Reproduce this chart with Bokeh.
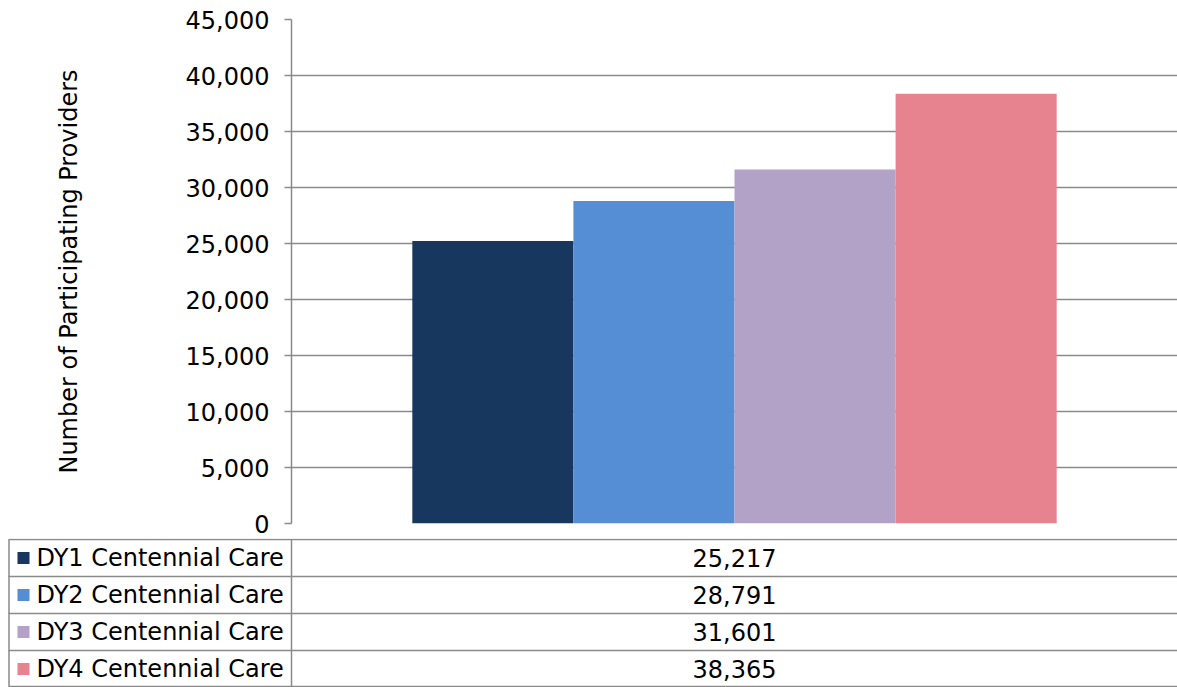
from bokeh.plotting import figure
from bokeh.models import Range1d, SingleIntervalTicker, NumeralTickFormatter, ColumnDataSource
from bokeh.layouts import column
from bokeh.core.properties import value
from bokeh.embed import file_html
from bokeh.resources import INLINE
import numpy as np

# ---- data ----
series_names = ["DY1 Centennial Care", "DY2 Centennial Care", "DY3 Centennial Care", "DY4 Centennial Care"]
series_values = [25217, 28791, 31601, 38365]
series_colors = ["#17375E", "#558ED5", "#B3A2C7", "#E6838F"]
y_ticks_interval = 5000
y_max = 45000
y_label = "Number of Participating Providers"

FONT = "DejaVu Sans"
FSIZE = "24px"
GRID = "#8a8a8a"

W = 1177
LEFT = 291
TABLE_ROW = 37
TABLE_H = 4 * TABLE_ROW + 1
CHART_H = 687 - TABLE_H

n = len(series_values)
gap = 0.75

# ---- chart ----
p = figure(width=W, height=CHART_H, output_backend="svg", toolbar_location=None,
           x_range=Range1d(-gap, n + gap), y_range=Range1d(0, y_max),
           min_border_left=LEFT, min_border_top=19, min_border_bottom=15,
           min_border_right=0, frame_align=False)
p.outline_line_color = None
p.background_fill_color = "white"
p.border_fill_color = "white"

src = ColumnDataSource(dict(x=np.arange(n) + 0.5, top=series_values, color=series_colors, name=series_names))
p.vbar(x="x", top="top", width=1.0, color="color", line_color=None, source=src)

p.xaxis.visible = False
p.xgrid.visible = False
p.ygrid.grid_line_color = GRID
p.ygrid.grid_line_width = 1.5
p.yaxis.ticker = SingleIntervalTicker(interval=y_ticks_interval, num_minor_ticks=0)
p.yaxis.formatter = NumeralTickFormatter(format="0,0")
p.yaxis.axis_line_color = GRID
p.yaxis.axis_line_width = 1.5
p.yaxis.major_tick_line_color = GRID
p.yaxis.major_tick_line_width = 1.5
p.yaxis.major_tick_out = 7
p.yaxis.major_tick_in = 0
p.yaxis.minor_tick_line_color = None
p.yaxis.major_label_standoff = 15
p.yaxis.major_label_text_font = FONT
p.yaxis.major_label_text_font_size = FSIZE
p.yaxis.major_label_text_color = "black"
p.yaxis.axis_label = y_label
p.yaxis.axis_label_text_font = FONT
p.yaxis.axis_label_text_font_size = FSIZE
p.yaxis.axis_label_text_font_style = "normal"
p.yaxis.axis_label_text_color = "black"
p.yaxis.axis_label_standoff = 100

# ---- data table ----
t = figure(width=W, height=TABLE_H, output_backend="svg", toolbar_location=None,
           x_range=Range1d(0, W), y_range=Range1d(TABLE_H, 0),
           min_border=0, min_border_left=0, min_border_right=0, min_border_top=0, min_border_bottom=0,
           frame_align=False)
t.axis.visible = False
t.grid.visible = False
t.outline_line_color = None
t.background_fill_color = "white"
t.border_fill_color = "white"

row_lines = [1 + i * TABLE_ROW for i in range(n)] + [TABLE_H - 1]
t.segment(x0=[8] * len(row_lines), x1=[W] * len(row_lines), y0=row_lines, y1=row_lines,
          line_color=GRID, line_width=1.5)
t.segment(x0=[8.5, LEFT], x1=[8.5, LEFT], y0=[1, 1], y1=[row_lines[-1], row_lines[-1]],
          line_color=GRID, line_width=1.5)

centers = [1 + TABLE_ROW * (i + 0.5) for i in range(n)]
tsrc = ColumnDataSource(dict(y=centers, name=series_names, color=series_colors,
                             val=[f"{v:,}" for v in series_values],
                             xm=[23] * n, xt=[36] * n, xv=[LEFT + (W - LEFT) / 2] * n))
t.scatter(x="xm", y="y", marker="square", size=12, color="color", line_color=None, source=tsrc)
t.text(x="xt", y="y", text="name", text_font=value(FONT), text_font_size=value(FSIZE),
       text_baseline="middle", text_align="left", text_color="black", source=tsrc)
t.text(x="xv", y="y", text="val", text_font=value(FONT), text_font_size=value(FSIZE),
       text_baseline="middle", text_align="center", text_color="black", source=tsrc)

layout = column(p, t, spacing=0)
open("out.html", "w").write(file_html(layout, INLINE))
